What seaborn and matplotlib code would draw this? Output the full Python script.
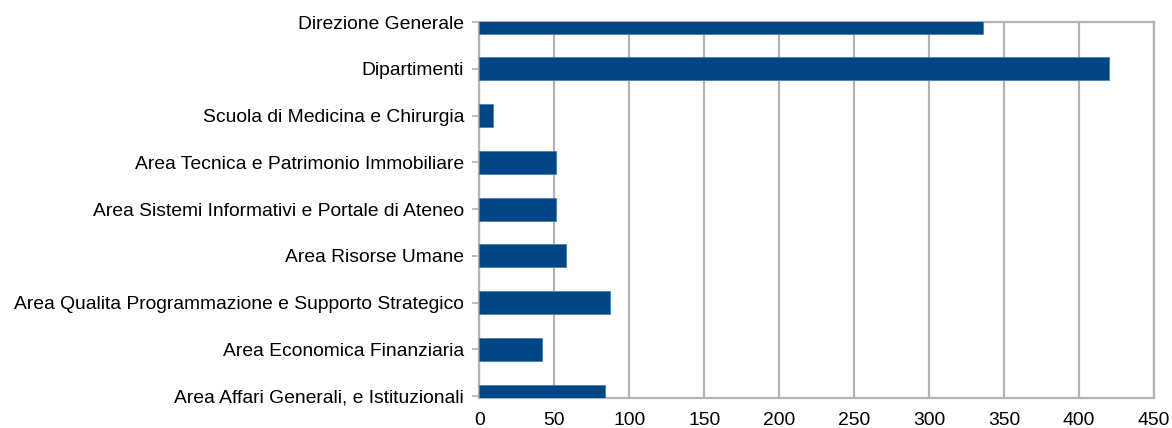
import seaborn as sns
import matplotlib.pyplot as plt
import pandas as pd

# categories from top to bottom as shown in the chart
categories = [
    "Direzione Generale",
    "Dipartimenti",
    "Scuola di Medicina e Chirurgia",
    "Area Tecnica e Patrimonio Immobiliare",
    "Area Sistemi Informativi e Portale di Ateneo",
    "Area Risorse Umane",
    "Area Qualita Programmazione e Supporto Strategico",
    "Area Economica Finanziaria",
    "Area Affari Generali, e Istituzionali",
]
values = [336, 420, 9, 51, 51, 58, 87, 42, 84]
x_ticks = [0, 50, 100, 150, 200, 250, 300, 350, 400, 450]

df = pd.DataFrame({"categoria": categories, "valore": values})

sns.set_theme(style="white")
plt.rcParams['font.family'] = ['Liberation Sans', 'DejaVu Sans']

fig = plt.figure(figsize=(11.72, 4.28), dpi=100)
ax = fig.add_axes([0.409, 0.071, 0.5755, 0.8775])

sns.barplot(data=df, x="valore", y="categoria", orient="h",
            color="#004586", saturation=1, width=0.49, ax=ax, zorder=3,
            edgecolor="#4a7fb0", linewidth=0.6)

ax.set_xlim(0, 450)
ax.set_ylim(8.03, 0)
ax.set_xticks(x_ticks)
ax.grid(axis="x", color="#b3b3b3", linewidth=1.6, zorder=0)
ax.set_axisbelow(True)
ax.set_xlabel("")
ax.set_ylabel("")

for s in ax.spines.values():
    s.set_color("#b3b3b3")
    s.set_linewidth(1.6)

ax.tick_params(axis="y", length=5, width=1.2, color="#b3b3b3", labelsize=13.9, pad=6, left=True)
ax.tick_params(axis="x", length=0, labelsize=13.9, pad=10.5)
for lab in ax.get_xticklabels() + ax.get_yticklabels():
    lab.set_color("black")

plt.savefig("out.png", dpi=100)
